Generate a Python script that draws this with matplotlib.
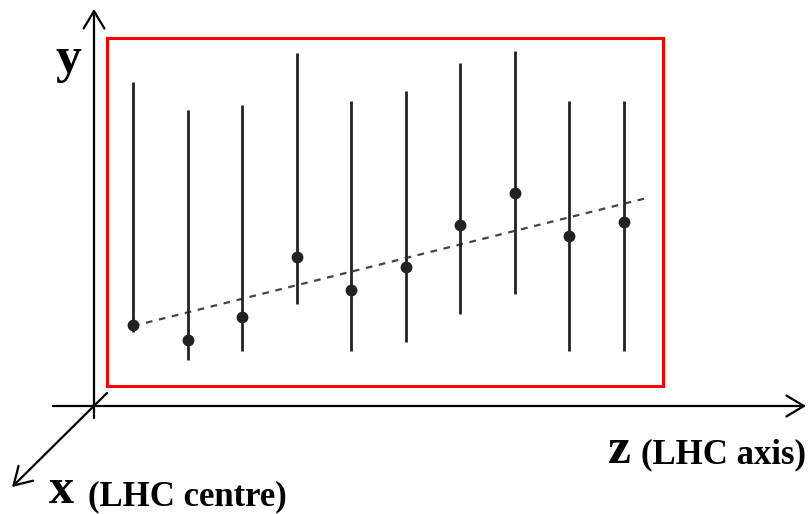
import numpy as np
import matplotlib.pyplot as plt

# measurement positions along z and the measured y with asymmetric errors
z_pos = np.arange(1, 11)
y_val = np.array([6.1, 4.6, 6.9, 12.9, 9.6, 11.9, 16.1, 19.3, 15.0, 16.4])
y_top = np.array([30.4, 27.6, 28.1, 33.3, 28.5, 29.5, 32.3, 33.5, 28.5, 28.5])
y_bot = np.array([5.4, 2.6, 3.5, 8.2, 3.5, 4.4, 7.2, 9.2, 3.5, 3.5])

# straight-line fit through the points
fit_z = [1.0, 10.42]
fit_y = [6.0, 18.8]

W, H = 808, 514
fig = plt.figure(figsize=(W / 100, H / 100), dpi=100)

# overlay in pixel units for the coordinate axes and labels
ov = fig.add_axes([0, 0, 1, 1])
ov.set_xlim(0, W)
ov.set_ylim(H, 0)
ov.axis('off')

arrow = dict(arrowstyle='->,head_length=1.25,head_width=0.75', color='black',
             lw=1.6, shrinkA=0, shrinkB=0)
ov.annotate('', xy=(94, 9), xytext=(94, 418), arrowprops=arrow)
ov.annotate('', xy=(806, 406), xytext=(53, 406), arrowprops=arrow)
ov.annotate('', xy=(12, 487), xytext=(107, 393), arrowprops=arrow)

font = 'Liberation Serif'
ov.text(56, 72, 'y', fontsize=37, fontweight='bold', family=font, va='baseline')
ov.text(608, 463, 'z', fontsize=37, fontweight='bold', family=font, va='baseline')
ov.text(641, 463, '(LHC axis)', fontsize=25, fontweight='bold', family=font, va='baseline')
ov.text(49, 503, 'x', fontsize=36, fontweight='bold', family=font, va='baseline')
ov.text(88, 505, '(LHC centre)', fontsize=25, fontweight='bold', family=font, va='baseline')

# data panel = the red box
ax = fig.add_axes([107 / W, 1 - 386 / H, (663 - 107) / W, (386 - 38) / H])
ax.patch.set_alpha(0)
for s in ax.spines.values():
    s.set_color('#ff0000')
    s.set_linewidth(2.2)
ax.set_xticks([])
ax.set_yticks([])
ax.set_xlim(0.5235, 10.715)
ax.set_ylim(0, 34.8)

yerr = [y_val - y_bot, y_top - y_val]
ax.errorbar(z_pos, y_val, yerr=yerr, fmt='o', color='#222222', ms=7.5,
            elinewidth=2.0, capsize=0, zorder=3)
ax.plot(fit_z, fit_y, color='#444444', lw=1.6, dashes=(3, 3), zorder=2)

fig.savefig('out.png', dpi=100)
